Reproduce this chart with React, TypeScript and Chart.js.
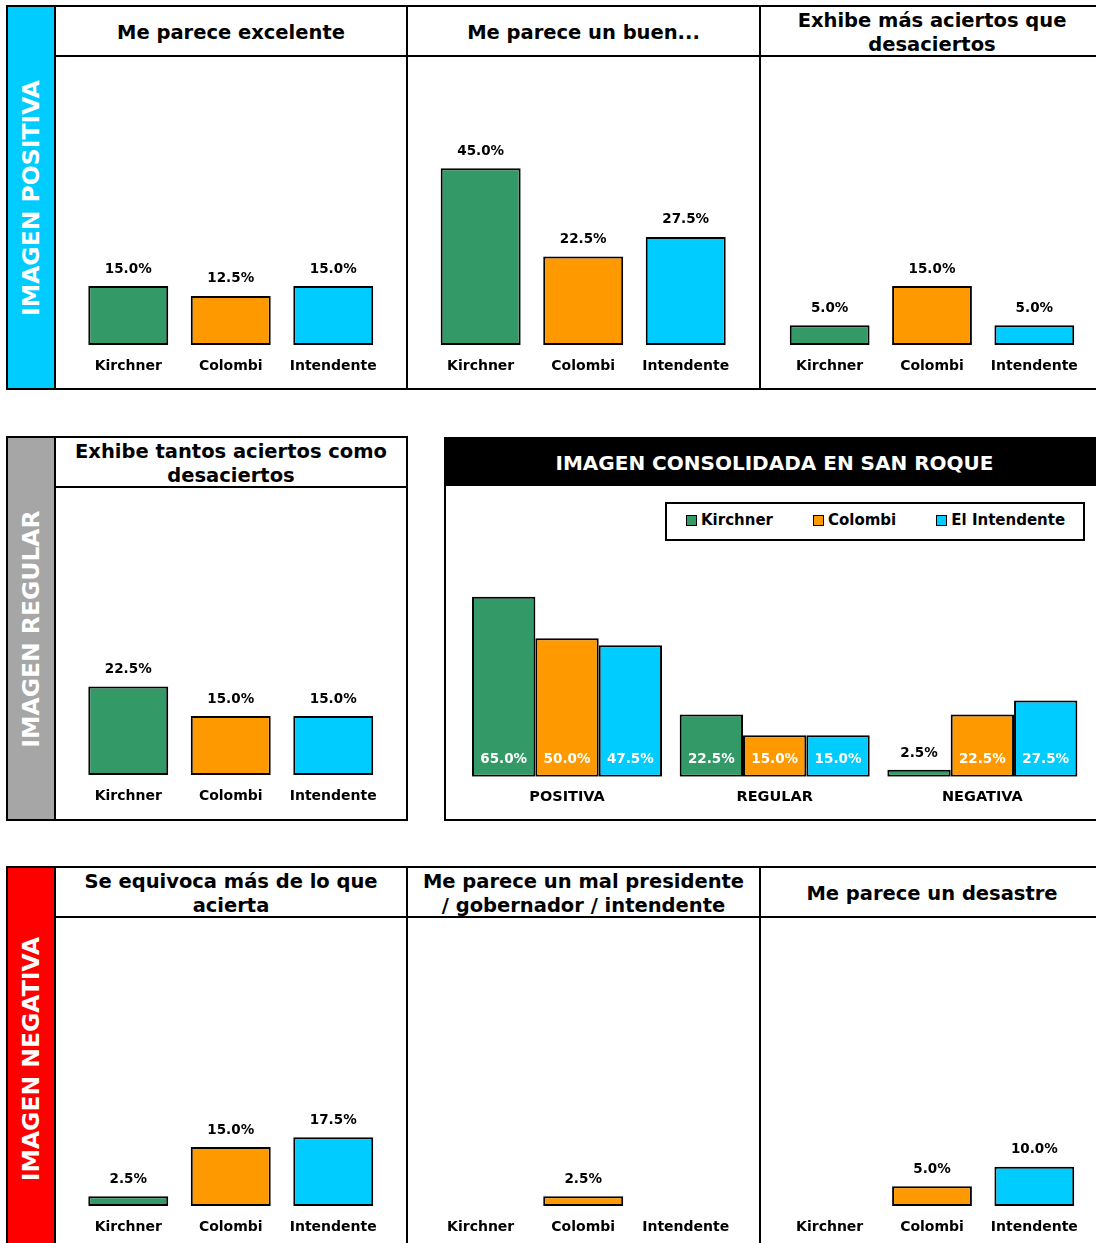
import React, { useEffect, useRef } from 'react';
import { Chart, registerables } from 'chart.js';

Chart.register(...registerables);

const FONT = '"DejaVu Sans", Verdana, sans-serif';

// ---------- DATA ----------
const CANDIDATES = ['Kirchner', 'Colombi', 'Intendente'];
const LEGEND_NAMES = ['Kirchner', 'Colombi', 'El Intendente'];
const COLORS = ['#339966', '#FF9900', '#00CCFF'];

const EXCELENTE = [15.0, 12.5, 15.0];
const BUEN = [45.0, 22.5, 27.5];
const MAS_ACIERTOS = [5.0, 15.0, 5.0];
const TANTOS_ACIERTOS = [22.5, 15.0, 15.0];
const SE_EQUIVOCA = [2.5, 15.0, 17.5];
const MAL_PRESIDENTE = [0, 2.5, 0];
const DESASTRE = [0, 5.0, 10.0];

const CONS_CATEGORIES = ['POSITIVA', 'REGULAR', 'NEGATIVA'];
const CONS_KIRCHNER = [65.0, 22.5, 2.5];
const CONS_COLOMBI = [50.0, 15.0, 22.5];
const CONS_INTENDENTE = [47.5, 15.0, 27.5];

const fmt = (v: number) => v.toFixed(1) + '%';

// ---------- PLUGINS ----------
const smallLabels = {
  id: 'smallLabels',
  afterDatasetsDraw(chart: any) {
    const ctx = chart.ctx;
    const ds = chart.data.datasets[0];
    chart.getDatasetMeta(0).data.forEach((bar: any, i: number) => {
      const v = ds.data[i];
      if (v == null) return;
      ctx.save();
      ctx.font = `bold 13.5px ${FONT}`;
      ctx.fillStyle = '#000';
      ctx.textAlign = 'center';
      ctx.textBaseline = 'middle';
      ctx.fillText(fmt(v), bar.x, bar.y - 17);
      ctx.restore();
    });
  },
};

const consLabels = {
  id: 'consLabels',
  afterDatasetsDraw(chart: any) {
    const ctx = chart.ctx;
    chart.data.datasets.forEach((ds: any, di: number) => {
      chart.getDatasetMeta(di).data.forEach((bar: any, i: number) => {
        const v = ds.data[i];
        if (v == null) return;
        const h = bar.base - bar.y;
        ctx.save();
        ctx.font = `bold 13.5px ${FONT}`;
        ctx.textAlign = 'center';
        ctx.textBaseline = 'middle';
        if (h < 30) {
          ctx.fillStyle = '#000';
          ctx.fillText(fmt(v), bar.x, bar.y - 16.5);
        } else {
          ctx.fillStyle = '#fff';
          ctx.fillText(fmt(v), bar.base - 17 > 0 ? bar.x : bar.x, bar.base - 17);
        }
        ctx.restore();
      });
    });
  },
};

// ---------- CHART COMPONENTS ----------
const PX_PER_PCT = 3.93;

function SmallChart(props: { values: number[]; x: number; y: number; w: number; h: number; padL: number; padR: number }) {
  const { values, x, y, w, h, padL, padR } = props;
  const ref = useRef<HTMLCanvasElement>(null);
  useEffect(() => {
    const yMax = (h - 43) / PX_PER_PCT;
    const chart = new Chart(ref.current as HTMLCanvasElement, {
      type: 'bar',
      data: {
        labels: CANDIDATES,
        datasets: [
          {
            data: values.map((v) => (v === 0 ? null : v)),
            backgroundColor: COLORS,
            borderColor: '#000',
            borderWidth: 2,
            borderSkipped: false,
            categoryPercentage: 0.78,
            barPercentage: 1,
          } as any,
        ],
      },
      options: {
        animation: false,
        responsive: false,
        maintainAspectRatio: false,
        layout: { padding: { left: padL, right: padR, top: 0, bottom: 0.2 } },
        plugins: { legend: { display: false }, tooltip: { enabled: false } },
        scales: {
          x: {
            grid: { display: false, drawTicks: false },
            border: { display: false },
            ticks: { padding: 13, color: '#000', font: { size: 14, weight: 'bold', family: FONT } },
          },
          y: { display: false, min: 0, max: yMax },
        },
      } as any,
      plugins: [smallLabels],
    });
    return () => chart.destroy();
  }, []);
  return (
    <canvas
      ref={ref}
      width={w}
      height={h}
      style={{ position: 'absolute', left: x, top: y, width: w, height: h }}
    />
  );
}

function ConsolidatedChart(props: { x: number; y: number; w: number; h: number }) {
  const { x, y, w, h } = props;
  const ref = useRef<HTMLCanvasElement>(null);
  useEffect(() => {
    const series = [CONS_KIRCHNER, CONS_COLOMBI, CONS_INTENDENTE];
    const chart = new Chart(ref.current as HTMLCanvasElement, {
      type: 'bar',
      data: {
        labels: CONS_CATEGORIES,
        datasets: series.map((s, i) => ({
          label: LEGEND_NAMES[i],
          data: s,
          backgroundColor: COLORS[i],
          borderColor: '#000',
          borderWidth: 2,
          borderSkipped: false,
          categoryPercentage: 0.915,
          barPercentage: 1,
        })) as any,
      },
      options: {
        animation: false,
        responsive: false,
        maintainAspectRatio: false,
        layout: { padding: { left: 17.2, right: 19.8, top: 13.7, bottom: 0.3 } },
        plugins: { legend: { display: false }, tooltip: { enabled: false } },
        scales: {
          x: {
            grid: { display: false, drawTicks: false },
            border: { display: false },
            ticks: { padding: 11.8, color: '#000', font: { size: 14.5, weight: 'bold', family: FONT } },
          },
          y: { display: false, min: 0, max: 100 },
        },
      } as any,
      plugins: [consLabels],
    });
    return () => chart.destroy();
  }, []);
  return (
    <canvas
      ref={ref}
      width={w}
      height={h}
      style={{ position: 'absolute', left: x, top: y, width: w, height: h }}
    />
  );
}

// ---------- LAYOUT HELPERS ----------
function Rect(p: { x: number; y: number; w: number; h: number; bg: string }) {
  return (
    <div style={{ position: 'absolute', left: p.x, top: p.y, width: p.w, height: p.h, background: p.bg }} />
  );
}

function Title(p: { x: number; y: number; w: number; h: number; lines: string[]; size?: number; color?: string; dy?: number }) {
  return (
    <div
      style={{
        position: 'absolute',
        left: p.x,
        top: p.y + (p.dy ?? 1.5),
        width: p.w,
        height: p.h,
        display: 'flex',
        alignItems: 'center',
        justifyContent: 'center',
        textAlign: 'center',
        fontFamily: FONT,
        fontWeight: 'bold',
        fontSize: p.size ?? 19.5,
        lineHeight: '24px',
        color: p.color ?? '#000',
        whiteSpace: 'nowrap',
      }}
    >
      <div>
        {p.lines.map((l, i) => (
          <div key={i}>{l}</div>
        ))}
      </div>
    </div>
  );
}

function BandText(p: { x: number; y: number; w: number; h: number; text: string }) {
  return (
    <div
      style={{
        position: 'absolute',
        left: p.x,
        top: p.y,
        width: p.w,
        height: p.h,
        display: 'flex',
        alignItems: 'center',
        justifyContent: 'center',
      }}
    >
      <div
        style={{
          transform: 'rotate(-90deg)',
          whiteSpace: 'nowrap',
          fontFamily: FONT,
          fontWeight: 'bold',
          fontSize: 23.5,
          color: '#fff',
          lineHeight: '28px',
        }}
      >
        {p.text}
      </div>
    </div>
  );
}

const K = '#000';
const CYAN = '#00CCFF';
const GREY = '#A6A6A6';
const RED = '#FF0000';

export default function App() {
  // column geometry
  const c1 = 56, c2 = 408, c3 = 761;
  const w1 = 350, w2 = 351, w3 = 342;

  return (
    <div
      style={{
        position: 'absolute',
        left: 0,
        top: 0,
        width: 1096,
        height: 1243,
        overflow: 'hidden',
        background: '#fff',
      }}
    >
      {/* ROW 1 - IMAGEN POSITIVA */}
      <Rect x={7} y={6} w={48} h={383} bg={CYAN} />
      <Rect x={6} y={5} w={1110} h={2} bg={K} />
      <Rect x={55} y={55} w={1060} h={2} bg={K} />
      <Rect x={6} y={388} w={1110} h={2} bg={K} />
      <Rect x={6} y={5} w={2} h={385} bg={K} />
      <Rect x={54} y={5} w={2} h={385} bg={K} />
      <Rect x={406} y={5} w={2} h={385} bg={K} />
      <Rect x={759} y={5} w={2} h={385} bg={K} />
      <BandText x={7} y={6} w={48} h={383} text="IMAGEN POSITIVA" />
      <Title x={c1} y={7} w={w1} h={48} lines={['Me parece excelente']} />
      <Title x={c2} y={7} w={w2} h={48} lines={['Me parece un buen...']} />
      <Title x={c3} y={7} w={w3} h={48} lines={['Exhibe más aciertos que', 'desaciertos']} />
      <SmallChart values={EXCELENTE} x={c1} y={57} w={w1} h={331} padL={21} padR={21.5} />
      <SmallChart values={BUEN} x={c2} y={57} w={w2} h={331} padL={21.4} padR={22} />
      <SmallChart values={MAS_ACIERTOS} x={c3} y={57} w={w3} h={331} padL={17.5} padR={17.5} />

      {/* ROW 2 - IMAGEN REGULAR */}
      <Rect x={7} y={437} w={48} h={383} bg={GREY} />
      <Rect x={6} y={436} w={402} h={2} bg={K} />
      <Rect x={55} y={486} w={352} h={2} bg={K} />
      <Rect x={6} y={819} w={402} h={2} bg={K} />
      <Rect x={6} y={436} w={2} h={385} bg={K} />
      <Rect x={54} y={436} w={2} h={385} bg={K} />
      <Rect x={406} y={436} w={2} h={385} bg={K} />
      <BandText x={7} y={437} w={48} h={383} text="IMAGEN REGULAR" />
      <Title x={c1} y={438} w={w1} h={48} lines={['Exhibe tantos aciertos como', 'desaciertos']} />
      <SmallChart values={TANTOS_ACIERTOS} x={c1} y={488} w={w1} h={330} padL={21} padR={21.5} />

      {/* CONSOLIDADO */}
      <Rect x={444} y={437} w={670} h={49} bg={K} />
      <Rect x={444} y={437} w={2} h={384} bg={K} />
      <Rect x={444} y={819} w={670} h={2} bg={K} />
      <Title x={445} y={437} w={659} h={49} lines={['IMAGEN CONSOLIDADA EN SAN ROQUE']} size={20} color="#fff" dy={1} />
      <div
        style={{
          position: 'absolute',
          left: 665,
          top: 502,
          width: 420,
          height: 39,
          boxSizing: 'border-box',
          border: '2px solid #000',
          background: '#fff',
        }}
      />
      <div
        style={{
          position: 'absolute',
          left: 686,
          top: 500.5,
          height: 39,
          display: 'flex',
          alignItems: 'center',
          gap: 40,
          fontFamily: FONT,
          fontWeight: 'bold',
          fontSize: 15,
          color: '#000',
          whiteSpace: 'nowrap',
        }}
      >
        {LEGEND_NAMES.map((n, i) => (
          <div key={n} style={{ display: 'flex', alignItems: 'center' }}>
            <div
              style={{
                width: 11,
                height: 11,
                boxSizing: 'border-box',
                border: '1.5px solid #000',
                background: COLORS[i],
                marginRight: 4,
                marginTop: 1,
              }}
            />
            <span style={{ lineHeight: '18px' }}>{n}</span>
          </div>
        ))}
      </div>
      <ConsolidatedChart x={446} y={486} w={660} h={332} />

      {/* ROW 3 - IMAGEN NEGATIVA */}
      <Rect x={7} y={867} w={48} h={400} bg={RED} />
      <Rect x={6} y={866} w={1110} h={2} bg={K} />
      <Rect x={55} y={916} w={1060} h={2} bg={K} />
      <Rect x={6} y={866} w={2} h={400} bg={K} />
      <Rect x={54} y={866} w={2} h={400} bg={K} />
      <Rect x={406} y={866} w={2} h={400} bg={K} />
      <Rect x={759} y={866} w={2} h={400} bg={K} />
      <BandText x={7} y={867} w={48} h={383} text="IMAGEN NEGATIVA" />
      <Title x={c1} y={868} w={w1} h={48} lines={['Se equivoca más de lo que', 'acierta']} />
      <Title x={c2} y={868} w={w2} h={48} lines={['Me parece un mal presidente', '/ gobernador / intendente']} />
      <Title x={c3} y={868} w={w3} h={48} lines={['Me parece un desastre']} />
      <SmallChart values={SE_EQUIVOCA} x={c1} y={918} w={w1} h={331} padL={21} padR={21.5} />
      <SmallChart values={MAL_PRESIDENTE} x={c2} y={918} w={w2} h={331} padL={21.4} padR={22} />
      <SmallChart values={DESASTRE} x={c3} y={918} w={w3} h={331} padL={17.5} padR={17.5} />
    </div>
  );
}
